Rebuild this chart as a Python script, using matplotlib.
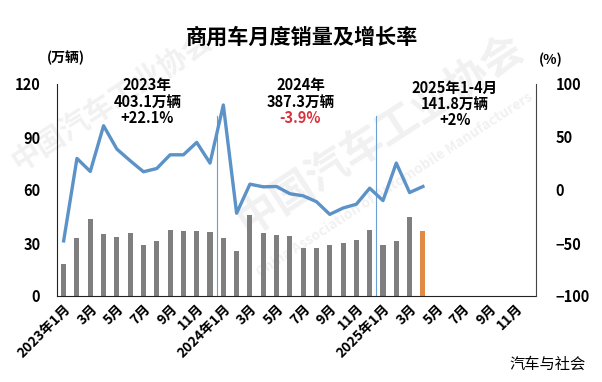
import matplotlib
matplotlib.use("Agg")
import matplotlib.pyplot as plt

plt.rcParams['font.family'] = ['Noto Sans CJK SC', 'DejaVu Sans']

# 2023-01 .. 2025-12, only 2023-01 .. 2025-04 have data
months = list(range(36))
sales = [18.0, 32.7, 43.5, 35.0, 33.3, 35.5, 28.9, 31.0, 37.2, 36.7, 36.7, 36.3,
         32.7, 25.3, 45.9, 35.5, 34.4, 33.8, 27.0, 27.0, 28.9, 30.0, 31.6, 37.2,
         29.1, 31.4, 44.7, 36.6]
growth = [-48.0, 29.8, 17.5, 60.6, 38.6, 27.6, 17.2, 20.3, 33.2, 33.2, 44.9, 25.4,
          80.2, -21.9, 5.5, 3.0, 3.3, -3.5, -5.5, -11.0, -23.0, -17.0, -13.4, 1.7,
          -10.0, 25.4, -2.4, 3.3]
tick_labels = ['2023年1月', '3月', '5月', '7月', '9月', '11月',
               '2024年1月', '3月', '5月', '7月', '9月', '11月',
               '2025年1月', '3月', '5月', '7月', '9月', '11月']

bar_colors = ['#7f7f7f'] * (len(sales) - 1) + ['#e08a45']

fig = plt.figure(figsize=(6.02, 3.82), dpi=100)
ax = fig.add_axes([57 / 602, 1 - 296 / 382, (536 - 57) / 602, (296 - 84) / 382])
ax2 = ax.twinx()

# faint watermark behind everything
wm = dict(transform=fig.transFigure, ha='center', va='center', fontweight='bold',
          color='#f1f1f1', rotation=33, zorder=0)
ax.text(380 / 602, 1 - 135 / 382, '中国汽车工业协会', fontsize=30, **wm)
ax.text(112 / 602, 1 - 100 / 382, '中国汽车工业协会', fontsize=21, **wm)
ax.text(395 / 602, 1 - 185 / 382, 'China Association of Automobile Manufacturers',
        fontsize=10, **wm)

ax.bar(months[:len(sales)], sales, width=0.38, color=bar_colors, zorder=2)
ax2.plot(months[:len(growth)], growth, color='#5b92c8', lw=2.4, zorder=3)

ax.set_xlim(-0.5, 35.5)
ax.set_ylim(0, 120)
ax.set_yticks([0, 30, 60, 90, 120])
ax2.set_ylim(-100, 100)
ax2.set_yticks([-100, -50, 0, 50, 100])

for a in (ax, ax2):
    a.spines['top'].set_visible(False)
    a.tick_params(length=0)
ax.spines['left'].set_color('#222222')
ax.spines['bottom'].set_color('#222222')
ax.spines['right'].set_visible(False)
ax2.spines['right'].set_color('#444444')
ax2.spines['left'].set_visible(False)
ax2.spines['bottom'].set_visible(False)

ax.tick_params(axis='y', pad=12, labelsize=10.5)
ax2.tick_params(axis='y', pad=14, labelsize=10.5)
for lab in ax.get_yticklabels() + ax2.get_yticklabels():
    lab.set_fontweight('bold')

ax.set_xticks(months[::2])
ax.set_xticklabels(tick_labels, rotation=45, ha='right', rotation_mode='anchor',
                   fontsize=10, fontweight='bold')
ax.tick_params(axis='x', pad=4)

# year separators
for xs in (11.5, 23.5):
    ax.plot([xs, xs], [0, 102], color='#6b9fd0', lw=0.8, zorder=1)

# yearly summaries, one text per line
ann = dict(ha='center', va='center', fontsize=10.5, fontweight='bold')
ax.text(6.3, 119.4, '2023年', **ann)
ax.text(6.3, 110.1, '403.1万辆', **ann)
ax.text(6.3, 101.0, '+22.1%', **ann)
ax.text(17.8, 119.4, '2024年', **ann)
ax.text(17.8, 110.1, '387.3万辆', **ann)
ax.text(17.8, 101.0, '-3.9%', color='#d9323f', **ann)
ax.text(29.4, 117.7, '2025年1-4月', **ann)
ax.text(29.4, 108.6, '141.8万辆', **ann)
ax.text(29.4, 99.5, '+2%', **ann)

fig.text(66 / 602, 1 - 58 / 382, '(万辆)', ha='center', va='center', fontsize=10, fontweight='bold')
fig.text(551 / 602, 1 - 60 / 382, '(%)', ha='center', va='center', fontsize=10, fontweight='bold')
fig.text(302 / 602, 1 - 37 / 382, '商用车月度销量及增长率', ha='center', va='center',
         fontsize=15.2, fontweight='bold')
fig.text(548 / 602, 1 - 364 / 382, '汽车与社会', ha='center', va='center', fontsize=11)

fig.savefig('out.png', dpi=100)
